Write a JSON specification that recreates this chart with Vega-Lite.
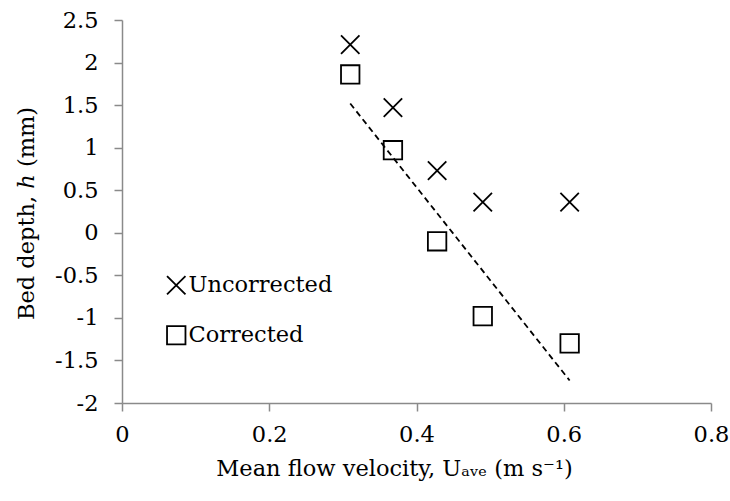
{
  "$schema": "https://vega.github.io/schema/vega-lite/v6.json",
  "width": 589,
  "height": 383,
  "autosize": {"type": "none"},
  "padding": {"left": 122, "top": 20, "right": 19, "bottom": 98},
  "background": "white",
  "config": {
    "view": {"stroke": null},
    "font": "DejaVu Serif",
    "axis": {
      "domainColor": "#8a8a8a",
      "domainWidth": 1.5,
      "tickColor": "#8a8a8a",
      "tickWidth": 1.5,
      "tickSize": 8,
      "grid": false,
      "labelFont": "DejaVu Serif",
      "labelFontSize": 22.5,
      "labelColor": "#000000",
      "titleFont": "DejaVu Serif",
      "titleFontSize": 22.5,
      "titleFontWeight": "normal",
      "titleColor": "#000000"
    }
  },
  "data": {
    "values": [
      {"series": "Uncorrected", "u": 0.31, "h": 2.21},
      {"series": "Uncorrected", "u": 0.368, "h": 1.47},
      {"series": "Uncorrected", "u": 0.428, "h": 0.73},
      {"series": "Uncorrected", "u": 0.49, "h": 0.36},
      {"series": "Uncorrected", "u": 0.608, "h": 0.36},
      {"series": "Corrected", "u": 0.31, "h": 1.86},
      {"series": "Corrected", "u": 0.368, "h": 0.97},
      {"series": "Corrected", "u": 0.428, "h": -0.1},
      {"series": "Corrected", "u": 0.49, "h": -0.98},
      {"series": "Corrected", "u": 0.608, "h": -1.3}
    ]
  },
  "encoding": {
    "x": {
      "field": "u",
      "type": "quantitative",
      "scale": {"domain": [0, 0.8], "nice": false, "zero": false},
      "axis": {
        "values": [0, 0.2, 0.4, 0.6, 0.8],
        "labelExpr": "'' + datum.value",
        "labelPadding": 12,
        "labelFlush": false,
        "title": "Mean flow velocity, Uₐᵥₑ (m s⁻¹)",
        "titleX": 272,
        "titleY": 65,
        "titleAlign": "center",
        "titleBaseline": "middle"
      }
    },
    "y": {
      "field": "h",
      "type": "quantitative",
      "scale": {"domain": [-2, 2.5], "nice": false, "zero": false},
      "axis": {
        "values": [-2, -1.5, -1, -0.5, 0, 0.5, 1, 1.5, 2, 2.5],
        "labelExpr": "'' + datum.value",
        "labelPadding": 16,
        "labelFlush": false,
        "title": "Bed depth, ℎ (mm)",
        "titleAngle": -90,
        "titleX": -96,
        "titleY": 193,
        "titleAlign": "center",
        "titleBaseline": "middle"
      }
    }
  },
  "layer": [
    {
      "transform": [
        {"filter": "datum.series === 'Corrected'"},
        {"regression": "h", "on": "u"}
      ],
      "mark": {
        "type": "line",
        "color": "#000000",
        "strokeWidth": 1.8,
        "strokeDash": [6, 4]
      },
      "encoding": {}
    },
    {
      "mark": {
        "type": "point",
        "filled": false,
        "color": "#000000",
        "strokeWidth": 1.8,
        "opacity": 1
      },
      "encoding": {
        "shape": {
          "field": "series",
          "type": "nominal",
          "scale": {
            "domain": ["Uncorrected", "Corrected"],
            "range": ["M-1,-1L1,1M-1,1L1,-1", "square"]
          },
          "legend": {
            "orient": "none",
            "legendX": 43,
            "legendY": 254,
            "title": null,
            "padding": 0,
            "labelFont": "DejaVu Serif",
            "labelFontSize": 22.5,
            "labelColor": "#000000",
            "labelOffset": 1,
            "symbolSize": 340,
            "symbolStrokeWidth": 1.8,
            "symbolStrokeColor": "#000000",
            "rowPadding": 23
          }
        },
        "size": {"value": 340}
      }
    }
  ]
}
